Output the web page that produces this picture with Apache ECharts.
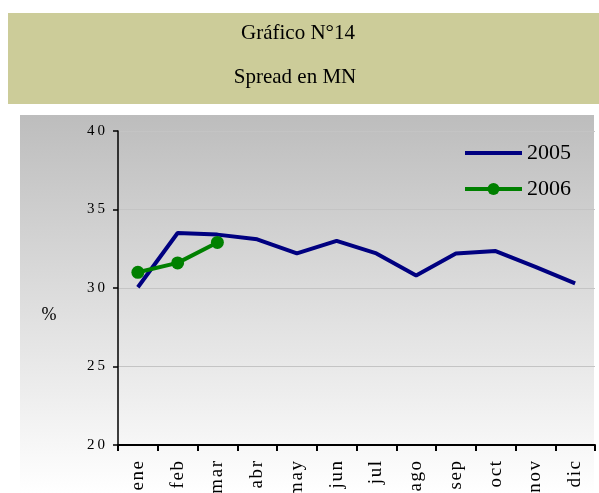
<!DOCTYPE html>
<html>
<head>
<meta charset="utf-8">
<script src="https://cdn.jsdelivr.net/npm/echarts@6/dist/echarts.min.js"></script>
<style>
  html, body { margin: 0; padding: 0; background: #fff; }
  #chart { width: 599px; height: 493px; }
</style>
</head>
<body>
<div id="chart"></div>
<script>
// datos
const meses = ['ene', 'feb', 'mar', 'abr', 'may', 'jun', 'jul', 'ago', 'sep', 'oct', 'nov', 'dic'];
const serie2005 = [30.05, 33.5, 33.4, 33.1, 32.2, 33.0, 32.2, 30.8, 32.2, 32.35, 31.35, 30.3];
const serie2006 = [31.0, 31.6, 32.9];
const yTicks = [20, 25, 30, 35, 40];

const serif = '"Liberation Serif", "DejaVu Serif", serif';

// separa las letras como en el original
function espaciar(s, sep) {
  return String(s).split('').join(sep);
}

const chart = echarts.init(document.getElementById('chart'), null, { renderer: 'canvas' });

const option = {
  backgroundColor: '#ffffff',
  animation: false,
  graphic: [
    {
      type: 'rect',
      shape: { x: 8, y: 13, width: 591, height: 91 },
      style: { fill: '#cccc99' },
      z: -10
    },
    {
      type: 'text',
      x: 298, y: 33,
      style: {
        text: 'Gráfico N°14',
        font: '21px ' + serif,
        fill: '#000',
        align: 'center',
        verticalAlign: 'middle'
      }
    },
    {
      type: 'text',
      x: 295, y: 77,
      style: {
        text: 'Spread en MN',
        font: '21px ' + serif,
        fill: '#000',
        align: 'center',
        verticalAlign: 'middle'
      }
    },
    {
      type: 'rect',
      shape: { x: 20, y: 115, width: 574, height: 378 },
      style: {
        fill: new echarts.graphic.LinearGradient(0, 0, 0, 1, [
          { offset: 0, color: '#bdbdbd' },
          { offset: 1, color: '#ffffff' }
        ])
      },
      z: -10
    },
    {
      type: 'text',
      x: 49, y: 315,
      style: {
        text: '%',
        font: '18px ' + serif,
        fill: '#000',
        align: 'center',
        verticalAlign: 'middle'
      }
    }
  ],
  grid: {
    left: 118,
    right: 4,
    top: 131,
    bottom: 48,
    containLabel: false,
    outerBoundsMode: 'none'
  },
  legend: {
    orient: 'vertical',
    left: 458,
    top: 137,
    itemWidth: 57,
    itemHeight: 15,
    itemGap: 14,
    textStyle: { fontFamily: serif, fontSize: 22, color: '#000', padding: [0, 0, 0, 0] },
    data: [
      { name: '2005', itemStyle: { opacity: 0 }, lineStyle: { width: 4 } },
      { name: '2006', lineStyle: { width: 4 } }
    ]
  },
  xAxis: {
    type: 'category',
    data: meses,
    boundaryGap: true,
    axisLine: { lineStyle: { color: '#000', width: 2 } },
    axisTick: { show: true, length: 6, inside: false, lineStyle: { color: '#000', width: 2 } },
    axisLabel: {
      rotate: 90,
      margin: 16,
      fontFamily: serif,
      fontSize: 19,
      color: '#000',
      formatter: v => espaciar(v, '\u200A')
    },
    splitLine: { show: false }
  },
  yAxis: {
    type: 'value',
    min: yTicks[0],
    max: yTicks[yTicks.length - 1],
    interval: 5,
    axisLine: { show: true, lineStyle: { color: '#000', width: 1.5 } },
    axisTick: { show: true, length: 5, lineStyle: { color: '#000', width: 1.5 } },
    axisLabel: {
      margin: 13,
      fontFamily: serif,
      fontSize: 15,
      color: '#000',
      formatter: v => espaciar(v, '\u2009')
    },
    splitLine: { show: true, lineStyle: { color: '#c4c4c4', width: 1 } }
  },
  series: [
    {
      name: '2005',
      type: 'line',
      data: serie2005,
      symbol: 'none',
      lineStyle: { color: '#000080', width: 4 },
      itemStyle: { color: '#000080' }
    },
    {
      name: '2006',
      type: 'line',
      data: serie2006,
      symbol: 'circle',
      symbolSize: 13,
      lineStyle: { color: '#008000', width: 4 },
      itemStyle: { color: '#008000' }
    }
  ]
};

chart.setOption(option);
</script>
</body>
</html>
